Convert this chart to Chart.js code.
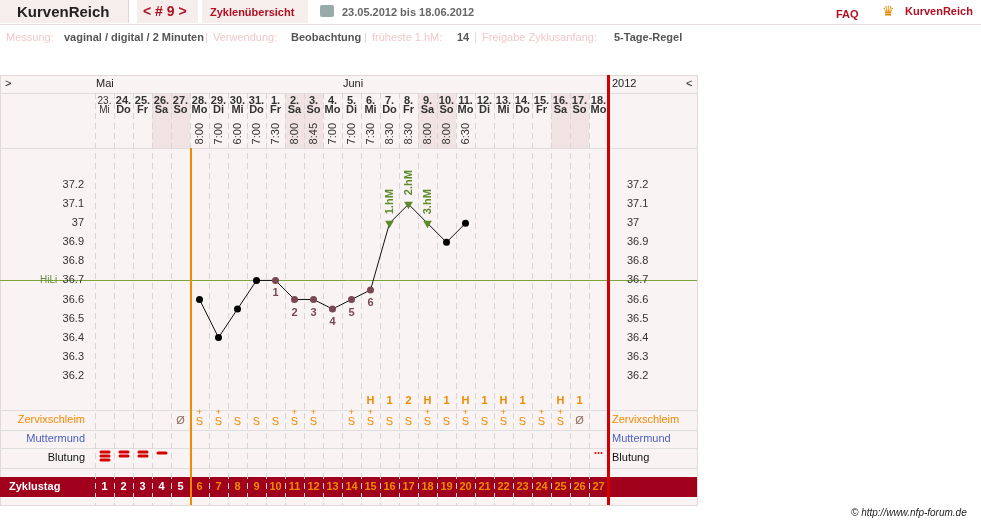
<!DOCTYPE html>
<html><head><meta charset="utf-8">
<script src="https://cdn.jsdelivr.net/npm/chart.js@4"></script>
<style>
body{margin:0;background:#fff;font-family:"Liberation Sans",Arial,sans-serif;}
#top{position:absolute;left:0;top:0;width:981px;height:60px;font-size:11px;}
#top span{position:absolute;white-space:nowrap;}
canvas{position:absolute;left:0;top:0;}
</style></head><body>
<canvas id="c" width="981" height="525"></canvas>
<div id="top">
 <span style="left:0;top:0;width:128px;height:23px;background:#f6eded;border-right:1px solid #e3d3d3;"></span>
 <span style="left:17px;top:3px;font-size:15px;font-weight:bold;color:#222">KurvenReich</span>
 <span style="left:137px;top:0;width:61px;height:23px;background:#f6eded;"></span>
 <span style="left:143px;top:3px;font-size:14px;font-weight:bold;color:#b01020">&lt; # 9 &gt;</span>
 <span style="left:202px;top:0;width:106px;height:23px;background:#f6eded;"></span>
 <span style="left:210px;top:6px;font-weight:bold;color:#b01020">Zyklenübersicht</span>
 <span style="left:320px;top:5px;width:14px;height:12px;background:#9aa;border-radius:2px"></span>
 <span style="left:342px;top:6px;font-weight:bold;color:#666">23.05.2012 bis 18.06.2012</span>
 <span style="left:836px;top:8px;font-weight:bold;color:#b01020">FAQ</span>
 <span style="left:882px;top:3px;color:#e08a00;font-size:14px">♛</span>
 <span style="left:905px;top:5px;font-weight:bold;color:#b01020">KurvenReich</span>
 <span style="left:0;top:24px;width:981px;height:1px;background:#e8dada"></span>
 <span style="left:6px;top:31px;color:#f0c8c8">Messung:</span>
 <span style="left:64px;top:31px;color:#555;font-weight:bold">vaginal / digital / 2 Minuten</span>
 <span style="left:205px;top:31px;color:#e8d0d0">|</span>
 <span style="left:213px;top:31px;color:#f0c8c8">Verwendung:</span>
 <span style="left:291px;top:31px;color:#555;font-weight:bold">Beobachtung</span>
 <span style="left:364px;top:31px;color:#e8d0d0">|</span>
 <span style="left:372px;top:31px;color:#f0c8c8">früheste 1.hM:</span>
 <span style="left:457px;top:31px;color:#555;font-weight:bold">14</span>
 <span style="left:474px;top:31px;color:#e8d0d0">|</span>
 <span style="left:482px;top:31px;color:#f0c8c8">Freigabe Zyklusanfang:</span>
 <span style="left:614px;top:31px;color:#555;font-weight:bold">5-Tage-Regel</span>
 <span style="left:851px;top:507px;font-size:10px;font-style:italic;color:#222">© http://www.nfp-forum.de</span>
</div>
<script>
// Daten
const days = ['23.','24.','25.','26.','27.','28.','29.','30.','31.','1.','2.','3.','4.','5.','6.','7.','8.','9.','10.','11.','12.','13.','14.','15.','16.','17.','18.'];
const weekdays = ['Mi','Do','Fr','Sa','So','Mo','Di','Mi','Do','Fr','Sa','So','Mo','Di','Mi','Do','Fr','Sa','So','Mo','Di','Mi','Do','Fr','Sa','So','Mo'];
const times = ['','','','','','8:00','7:00','6:00','7:00','7:30','8:00','8:45','7:00','7:00','7:30','8:30','8:30','8:00','8:00','6:30','','','','','','',''];
const temps = [null,null,null,null,null,36.6,36.4,36.55,36.7,36.7,36.6,36.6,36.55,36.6,36.65,37.0,37.1,37.0,36.9,37.0,null,null,null,null,null,null,null];
const pointKind = ['','','','','','n','n','n','n','c','c','c','c','c','c','h','h','h','n','n','','','','','','',''];
const pointNums = ['','','','','','','','','','1','2','3','4','5','6','','','','','','','','','','','',''];
const hmLabels = ['','','','','','','','','','','','','','','','1.hM','2.hM','3.hM','','','','','','','','',''];
const hRow = ['','','','','','','','','','','','','','','H','1','2','H','1','H','1','H','1','','H','1',''];
const zervix = ['','','','','Ø','S+','S+','S','S','S','S+','S+','','S+','S+','S','S','S+','S','S+','S','S+','S','S+','S+','Ø',''];
const blutung = [3,2,2,1,0,0,0,0,0,0,0,0,0,0,0,0,0,0,0,0,0,0,0,0,0,0,-1];
const zyklustag = days.map((d,i)=>String(i+1));
const yTicks = [36.2,36.3,36.4,36.5,36.6,36.7,36.8,36.9,37.0,37.1,37.2];
const hiLi = 36.7;

const FONT = '"Liberation Sans", Arial, sans-serif';
const ORANGE = '#f08a00', RED = '#d40000', DARKRED = '#a0001c', MAUVE = '#7a4852', GREEN = '#5e8a2a';

const panel = {
  id: 'panel',
  beforeDraw(chart) {
    const ctx = chart.ctx, x = chart.scales.x;
    const w = x.getPixelForValue(1) - x.getPixelForValue(0);
    ctx.save();
    ctx.fillStyle = '#f9f3f3';
    ctx.fillRect(0, 75, 697, 430);
    ctx.strokeStyle = '#e2d8d8';
    ctx.strokeRect(0.5, 75.5, 697, 430);
    // Wochenende
    days.forEach((d, i) => {
      if (weekdays[i] === 'Sa' || weekdays[i] === 'So') {
        ctx.fillStyle = '#f1e3e4';
        ctx.fillRect(x.getPixelForValue(i) - w / 2, 93, w, 55);
      }
    });
    // Zeilen
    ctx.strokeStyle = '#dedede';
    ctx.lineWidth = 1;
    [93, 148, 410, 430, 448, 468].forEach(y => {
      ctx.beginPath(); ctx.moveTo(0, y + 0.5); ctx.lineTo(697, y + 0.5); ctx.stroke();
    });
    // Zyklustag-Balken
    ctx.fillStyle = DARKRED;
    ctx.fillRect(0, 477, 697, 20);
    // gestrichelte Spalten
    ctx.setLineDash([6, 4]);
    ctx.strokeStyle = '#d6d6d6';
    for (let i = 0; i <= days.length; i++) {
      const px = Math.round(x.getPixelForValue(i) - w / 2) + 0.5;
      ctx.beginPath(); ctx.moveTo(px, 93); ctx.lineTo(px, 505); ctx.stroke();
    }
    ctx.setLineDash([]);
    // HiLi
    const yh = chart.scales.y.getPixelForValue(hiLi);
    ctx.strokeStyle = '#7aa53a';
    ctx.beginPath(); ctx.moveTo(0, Math.round(yh) + 0.5); ctx.lineTo(697, Math.round(yh) + 0.5); ctx.stroke();
    ctx.fillStyle = '#6a8a3a';
    ctx.font = '10px ' + FONT;
    ctx.textAlign = 'left'; ctx.textBaseline = 'middle';
    ctx.fillText('HiLi', 40, yh);
    // Kopfzeilen
    ctx.fillStyle = '#222';
    ctx.font = '11px ' + FONT;
    ctx.fillText('>', 5, 84);
    ctx.fillText('Mai', x.getPixelForValue(0) - w / 2 + 1, 84);
    ctx.fillText('Juni', x.getPixelForValue(9) - w / 2 + 77, 84);
    ctx.fillText('2012', 612, 84);
    ctx.fillText('<', 686, 84);
    ctx.font = '10px ' + FONT;
    ctx.textAlign = 'center';
    days.forEach((d, i) => {
      const px = x.getPixelForValue(i);
      ctx.fillStyle = '#333';
      ctx.fillText(d, px, 101);
      ctx.fillText(weekdays[i], px, 110);
      if (times[i]) {
        ctx.save();
        ctx.translate(px, 123);
        ctx.rotate(-Math.PI / 2);
        ctx.textAlign = 'right';
        ctx.font = '11px ' + FONT;
        ctx.fillText(times[i], 0, 0);
        ctx.restore();
      }
      // H-Zeile
      ctx.font = 'bold 11px ' + FONT;
      ctx.fillStyle = ORANGE;
      if (hRow[i]) ctx.fillText(hRow[i], px, 401);
      // Zervixschleim
      if (zervix[i] === 'Ø') {
        ctx.fillStyle = '#8a6a5a'; ctx.font = '11px ' + FONT;
        ctx.fillText('Ø', px, 421);
      } else if (zervix[i]) {
        ctx.fillStyle = ORANGE; ctx.font = '11px ' + FONT;
        ctx.fillText('S', px, 422);
        if (zervix[i] === 'S+') { ctx.font = '9px ' + FONT; ctx.fillText('+', px, 413); }
      }
      // Blutung
      ctx.fillStyle = RED;
      if (blutung[i] > 0) {
        const n = blutung[i];
        for (let k = 0; k < n; k++) {
          const yy = n === 1 ? 453 : 452 + k * 4;
          ctx.beginPath(); ctx.roundRect(px - 5, yy - 1.5, 11, 3, 1.5); ctx.fill();
        }
      } else if (blutung[i] < 0) {
        for (let k = -1; k <= 1; k++) { ctx.beginPath(); ctx.arc(px + k * 3, 453, 1, 0, 7); ctx.fill(); }
      }
      // Zyklustag
      ctx.font = 'bold 11px ' + FONT;
      ctx.fillStyle = i < 5 ? '#fff' : ORANGE;
      ctx.fillText(zyklustag[i], px, 487);
    });
    // Zeilentitel
    ctx.font = '11px ' + FONT;
    ctx.textAlign = 'right';
    ctx.fillStyle = ORANGE; ctx.fillText('Zervixschleim', 85, 420);
    ctx.fillStyle = '#4a5fc0'; ctx.fillText('Muttermund', 85, 439);
    ctx.fillStyle = '#111'; ctx.fillText('Blutung', 85, 458);
    ctx.textAlign = 'left';
    ctx.fillStyle = ORANGE; ctx.fillText('Zervixschleim', 612, 420);
    ctx.fillStyle = '#4a5fc0'; ctx.fillText('Muttermund', 612, 439);
    ctx.fillStyle = '#111'; ctx.fillText('Blutung', 612, 458);
    ctx.fillStyle = '#fff'; ctx.font = 'bold 11px ' + FONT;
    ctx.fillText('Zyklustag', 9, 487);
    ctx.restore();
  },
  afterDraw(chart) {
    const ctx = chart.ctx, x = chart.scales.x;
    const w = x.getPixelForValue(1) - x.getPixelForValue(0);
    ctx.save();
    ctx.fillStyle = ORANGE;
    ctx.fillRect(Math.round(x.getPixelForValue(5) - w / 2), 148, 2, 357);
    ctx.fillStyle = RED;
    ctx.fillRect(Math.round(x.getPixelForValue(26) + w / 2) - 1, 75, 3, 430);
    const meta = chart.getDatasetMeta(0);
    ctx.textAlign = 'center'; ctx.textBaseline = 'middle';
    meta.data.forEach((p, i) => {
      if (pointNums[i]) {
        ctx.fillStyle = MAUVE; ctx.font = 'bold 11px ' + FONT;
        ctx.fillText(pointNums[i], p.x, p.y + 13);
      }
      if (hmLabels[i]) {
        ctx.save();
        ctx.translate(p.x, p.y - 9);
        ctx.rotate(-Math.PI / 2);
        ctx.textAlign = 'left';
        ctx.fillStyle = GREEN; ctx.font = 'bold 11px ' + FONT;
        ctx.fillText(hmLabels[i], 0, 0);
        ctx.restore();
      }
    });
    ctx.restore();
  }
};

const tickOpts = (pad) => ({
  type: 'linear', min: 36.02, max: 37.395,
  afterBuildTicks: s => { s.ticks = yTicks.map(v => ({ value: v })); },
  grid: { display: false, drawTicks: false },
  border: { display: false },
  ticks: { padding: pad, color: '#333', font: { family: FONT, size: 11 },
           callback: v => String(Math.round(v * 10) / 10) }
});

new Chart(document.getElementById('c'), {
  type: 'line',
  data: {
    labels: days,
    datasets: [{
      data: temps,
      borderColor: '#111',
      borderWidth: 1,
      spanGaps: false,
      pointStyle: pointKind.map(k => k === 'h' ? 'triangle' : 'circle'),
      pointRotation: pointKind.map(k => k === 'h' ? 180 : 0),
      pointRadius: pointKind.map(k => k === 'h' ? 5 : 3.5),
      pointBackgroundColor: pointKind.map(k => k === 'h' ? GREEN : k === 'c' ? MAUVE : '#000'),
      pointBorderColor: pointKind.map(k => k === 'h' ? GREEN : k === 'c' ? MAUVE : '#000'),
      pointBorderWidth: 0
    }]
  },
  options: {
    responsive: false,
    devicePixelRatio: 1,
    animation: false,
    layout: { padding: { top: 148, bottom: 115, left: 0, right: 0 } },
    plugins: { legend: { display: false }, tooltip: { enabled: false } },
    scales: {
      x: { display: false, offset: true },
      y: Object.assign(tickOpts(11), { position: 'left', afterFit: s => { s.width = 95; } }),
      y2: Object.assign(tickOpts(19), { position: 'right', afterFit: s => { s.width = 373; } })
    }
  },
  plugins: [panel]
});
</script>
</body></html>
